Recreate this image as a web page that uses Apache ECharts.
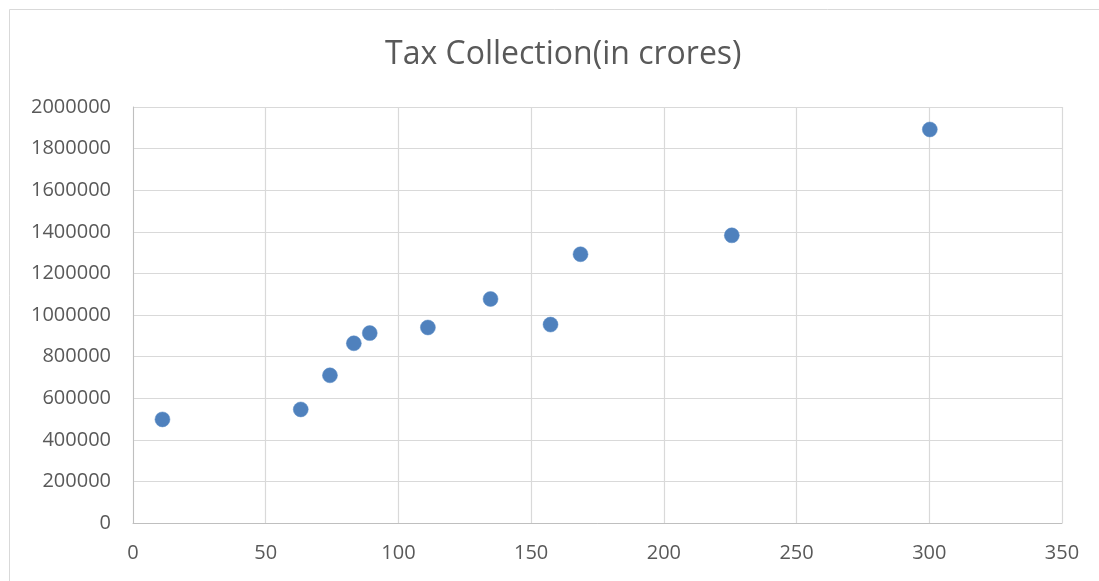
<!DOCTYPE html>
<html>
<head>
<meta charset="utf-8">
<script src="https://cdn.jsdelivr.net/npm/echarts@6/dist/echarts.min.js"></script>
<style>
html,body{margin:0;padding:0;background:#fff;}
#chart{width:1099px;height:581px;}
</style>
</head>
<body>
<div id="chart"></div>
<script>
const titleText = "Tax Collection(in crores)";
const xValues = [11.1, 63.2, 74.2, 83.2, 89.2, 111.1, 134.7, 157.3, 168.6, 225.6, 300.2];
const yValues = [498000, 546000, 710000, 864000, 913000, 940000, 1077000, 954000, 1292000, 1383000, 1892000];
const xTicks = [0, 50, 100, 150, 200, 250, 300, 350];
const yTicks = [0, 200000, 400000, 600000, 800000, 1000000, 1200000, 1400000, 1600000, 1800000, 2000000];

const points = xValues.map((x, i) => [x, yValues[i]]);
const chart = echarts.init(document.getElementById('chart'), null, {renderer: 'canvas'});
const font = '"Open Sans", "DejaVu Sans", sans-serif';
chart.setOption({
  animation: false,
  backgroundColor: '#ffffff',
  title: {
    text: titleText,
    left: 380,
    top: 34,
    textStyle: {fontFamily: font, fontSize: 32, fontWeight: 'normal', color: '#595959'}
  },
  graphic: [{
    type: 'rect',
    shape: {x: 9.5, y: 9.5, width: 1100, height: 600},
    style: {fill: 'none', stroke: '#d9d9d9', lineWidth: 1},
    silent: true
  }],
  grid: {left: 133, right: 37, top: 107, bottom: 58},
  xAxis: {
    type: 'value',
    min: xTicks[0],
    max: xTicks[xTicks.length - 1],
    interval: xTicks[1] - xTicks[0],
    axisLine: {show: true, lineStyle: {color: '#bfbfbf', width: 1}},
    axisTick: {show: false},
    axisLabel: {fontFamily: font, fontSize: 20, color: '#595959', margin: 20, formatter: v => String(v)},
    splitLine: {show: true, lineStyle: {color: '#d9d9d9', width: 1.2}}
  },
  yAxis: {
    type: 'value',
    min: yTicks[0],
    max: yTicks[yTicks.length - 1],
    interval: yTicks[1] - yTicks[0],
    axisLine: {show: true, lineStyle: {color: '#bfbfbf', width: 1}},
    axisTick: {show: false},
    axisLabel: {fontFamily: font, fontSize: 20, color: '#595959', margin: 22, formatter: v => String(v)},
    splitLine: {show: true, lineStyle: {color: '#d9d9d9', width: 1.2}}
  },
  series: [{
    type: 'scatter',
    data: points,
    symbol: 'circle',
    symbolSize: 15,
    itemStyle: {color: '#4f81bd', opacity: 1, borderColor: '#5b8cc6', borderWidth: 0.5}
  }]
});
</script>
</body>
</html>
